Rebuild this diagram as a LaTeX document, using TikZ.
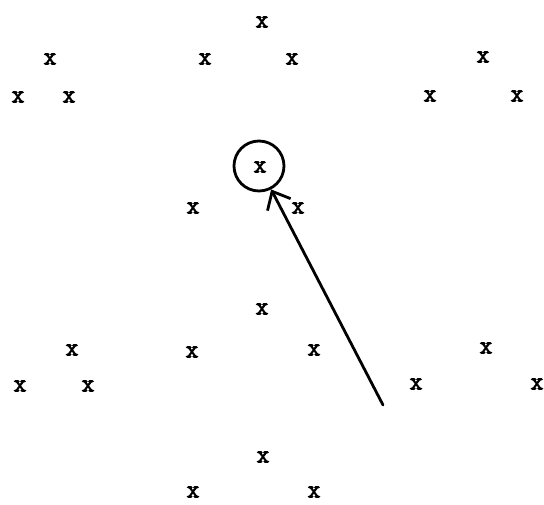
\documentclass[tikz,border=0pt]{standalone}
\usepackage{fontspec}
\newfontfamily\xfont{Latin Modern Mono}[AutoFakeBold=3]
\usetikzlibrary{arrows.meta}
\begin{document}
\begin{tikzpicture}[x=1pt,y=-1pt,
  pt/.style={font=\xfont\bfseries\fontsize{25}{25}\selectfont, inner sep=0pt},
  ring/.style={draw, circle, line width=2.8pt, minimum size=50pt, inner sep=0pt},
  arr/.style={line width=2.8pt, line cap=round, -{Straight Barb[length=15pt,width=26pt,line width=2.8pt]}}]
\useasboundingbox (0,0) rectangle (544,505);
% top cluster
\node[pt] (a1) at (262,22) {x};
\node[pt] (a2) at (50,59) {x};
\node[pt] (a3) at (205,59) {x};
\node[pt] (a4) at (292,59) {x};
\node[pt] (a5) at (483,57) {x};
\node[pt] (a6) at (18,97) {x};
\node[pt] (a7) at (69,97) {x};
\node[pt] (a8) at (430,96) {x};
\node[pt] (a9) at (517,96) {x};
% middle
\node[pt] (c0) at (260,167) {x};
\node[ring] (c) at (259,166) {};
\node[pt] (b1) at (193,208) {x};
\node[pt] (b2) at (298,208) {x};
\node[pt] (b3) at (262,309) {x};
% lower cluster
\node[pt] (d1) at (72,350) {x};
\node[pt] (d2) at (192,352) {x};
\node[pt] (d3) at (314,350) {x};
\node[pt] (d4) at (486,348) {x};
\node[pt] (d5) at (20,386) {x};
\node[pt] (d6) at (88,386) {x};
\node[pt] (d7) at (416,384) {x};
\node[pt] (d8) at (537,384) {x};
\node[pt] (e1) at (263,457) {x};
\node[pt] (e2) at (193,492) {x};
\node[pt] (e3) at (314,492) {x};
% arrow
\coordinate (tail) at (383,405);
\draw[arr] (tail) -- (c);
\end{tikzpicture}
\end{document}
